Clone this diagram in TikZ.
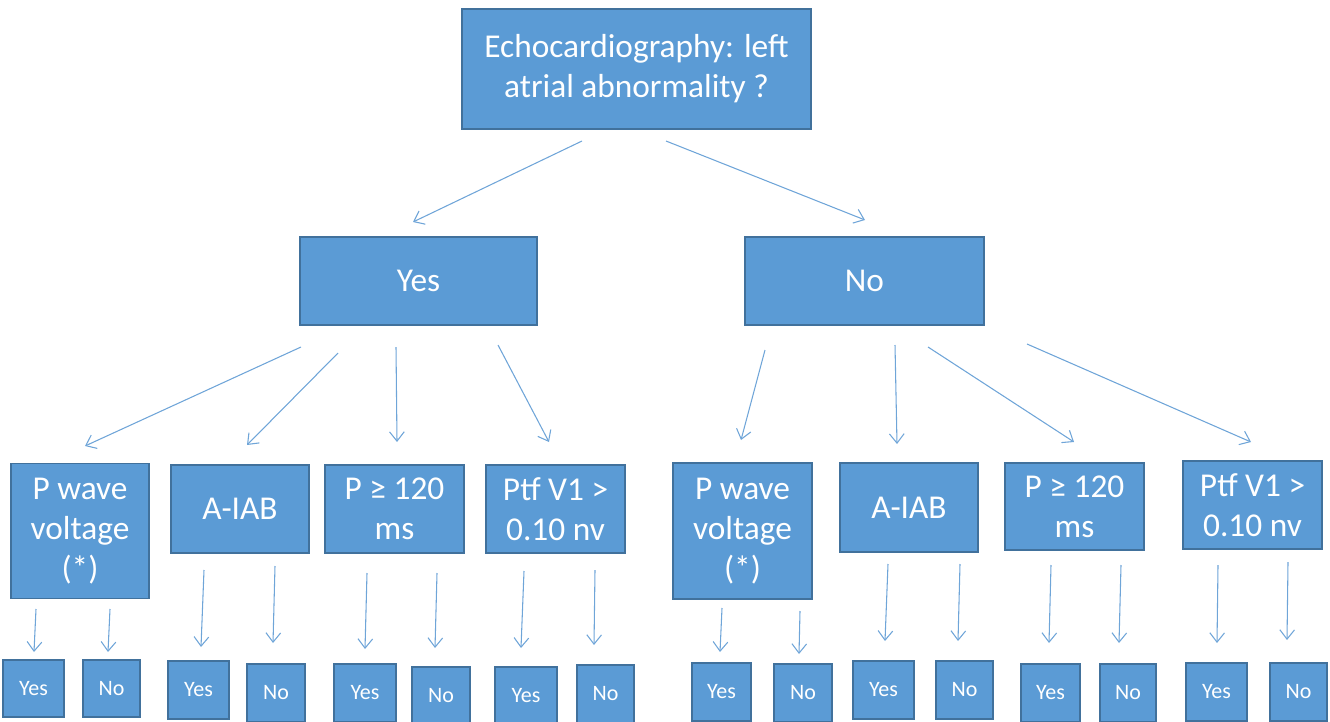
\documentclass[tikz,border=0pt]{standalone}
\usepackage{fontspec}
\setmainfont{Carlito}
\usetikzlibrary{arrows.meta}
\definecolor{boxfill}{HTML}{5B9BD5}
\definecolor{boxline}{HTML}{41719C}
\definecolor{arrowc}{HTML}{6FA5D8}
\tikzset{
  bx/.style n args={2}{minimum width=#1*0.75pt, minimum height=#2*0.75pt},
  box/.style={draw=boxline, fill=boxfill, line width=0.9pt, text=white, inner sep=0pt, align=center,
    font=\fontsize{25}{30}\selectfont},
  leaf/.style={box, font=\fontsize{16.5}{18}\selectfont},
  arr/.style={draw=arrowc, line width=0.8pt, -{Straight Barb[length=7pt, width=11pt, line width=0.8pt]}},
}
\begin{document}
\begin{tikzpicture}[x=0.75pt, y=-0.75pt]
\useasboundingbox (0,0) rectangle (1330,721);
\clip (0,0) rectangle (1330,721);
% top
\node[box, bx={349}{120}] (top) at (636.5,69) {Echocardiography: left\\atrial abnormality ?};
\node[box, bx={237}{88}] (yes) at (418.5,281) {Yes};
\node[box, bx={239}{88}] (no) at (864.5,281) {No};
% middle row
\node[box, bx={138}{135}] (pw1) at (80,531) {P wave\\voltage\\(*)};
\node[box, bx={138}{88}] (ab1) at (240,509) {A-IAB};
\node[box, bx={139}{88}] (pd1) at (394.5,509) {P ≥ 120\\ms};
\node[box, bx={139}{88}] (pt1) at (555.5,509) {Ptf V1 >\\0.10 nv};
\node[box, bx={139}{136}] (pw2) at (742.5,531) {P wave\\voltage\\(*)};
\node[box, bx={138}{89}] (ab2) at (909,507.5) {A-IAB};
\node[box, bx={139}{87}] (pd2) at (1074.5,506.5) {P ≥ 120\\ms};
\node[box, bx={139}{88}] (pt2) at (1252.5,505) {Ptf V1 >\\0.10 nv};
% leaves
\node[leaf, bx={61}{57}] (l1y) at (33.5,688.5) {Yes};
\node[leaf, bx={57}{57}] (l1n) at (111.5,688.5) {No};
\node[leaf, bx={61}{58}] (l2y) at (198.5,690) {Yes};
\node[leaf, bx={58}{58}] (l2n) at (276,693) {No};
\node[leaf, bx={62}{58}] (l3y) at (365,693) {Yes};
\node[leaf, bx={58}{58}] (l3n) at (441,696) {No};
\node[leaf, bx={62}{58}] (l4y) at (526,696) {Yes};
\node[leaf, bx={57}{58}] (l4n) at (605.5,694) {No};
\node[leaf, bx={59}{58}] (l5y) at (721.5,692) {Yes};
\node[leaf, bx={58}{58}] (l5n) at (803,693) {No};
\node[leaf, bx={61}{58}] (l6y) at (883.5,690) {Yes};
\node[leaf, bx={57}{58}] (l6n) at (964.5,690) {No};
\node[leaf, bx={59}{58}] (l7y) at (1050.5,693) {Yes};
\node[leaf, bx={56}{58}] (l7n) at (1128,693) {No};
\node[leaf, bx={61}{58}] (l8y) at (1216.5,692) {Yes};
\node[leaf, bx={57}{58}] (l8n) at (1298.5,692) {No};
% arrow end points
\coordinate (a1s) at (582,141); \coordinate (a1e) at (413,222);
\coordinate (a2s) at (666,141); \coordinate (a2e) at (865,220);
\coordinate (b1s) at (301,347); \coordinate (b1e) at (85,446);
\coordinate (b2s) at (338,353); \coordinate (b2e) at (247,445);
\coordinate (b3s) at (396,347); \coordinate (b3e) at (397,442);
\coordinate (b4s) at (498,345); \coordinate (b4e) at (549,442);
\coordinate (c1s) at (765,350); \coordinate (c1e) at (741,440);
\coordinate (c2s) at (895,345); \coordinate (c2e) at (897,444);
\coordinate (c3s) at (928,347); \coordinate (c3e) at (1074,442);
\coordinate (c4s) at (1027,344); \coordinate (c4e) at (1251,442);
\draw[arr] (a1s) -- (a1e);
\draw[arr] (a2s) -- (a2e);
\draw[arr] (b1s) -- (b1e);
\draw[arr] (b2s) -- (b2e);
\draw[arr] (b3s) -- (b3e);
\draw[arr] (b4s) -- (b4e);
\draw[arr] (c1s) -- (c1e);
\draw[arr] (c2s) -- (c2e);
\draw[arr] (c3s) -- (c3e);
\draw[arr] (c4s) -- (c4e);
% leaf arrows
\coordinate (d1s) at (36,609); \coordinate (d1e) at (34,652);
\coordinate (d2s) at (110,609); \coordinate (d2e) at (108,652);
\coordinate (d3s) at (204,570); \coordinate (d3e) at (201,647);
\coordinate (d4s) at (275,566); \coordinate (d4e) at (273,643);
\coordinate (d5s) at (367,573); \coordinate (d5e) at (365,649);
\coordinate (d6s) at (437,573); \coordinate (d6e) at (435,648);
\coordinate (d7s) at (524,571); \coordinate (d7e) at (521,648);
\coordinate (d8s) at (595,570); \coordinate (d8e) at (594,645);
\coordinate (e1s) at (722,608); \coordinate (e1e) at (720,652);
\coordinate (e2s) at (800,611); \coordinate (e2e) at (799,654);
\coordinate (e3s) at (888,564); \coordinate (e3e) at (885,641);
\coordinate (e4s) at (960,564); \coordinate (e4e) at (958,641);
\coordinate (e5s) at (1051,565); \coordinate (e5e) at (1049,643);
\coordinate (e6s) at (1121,565); \coordinate (e6e) at (1119,643);
\coordinate (e7s) at (1218,565); \coordinate (e7e) at (1217,643);
\coordinate (e8s) at (1288,562); \coordinate (e8e) at (1287,640);
\foreach \n in {d1,d2,d3,d4,d5,d6,d7,d8,e1,e2,e3,e4,e5,e6,e7,e8}
  \draw[arr] (\n s) -- (\n e);
\end{tikzpicture}
\end{document}
